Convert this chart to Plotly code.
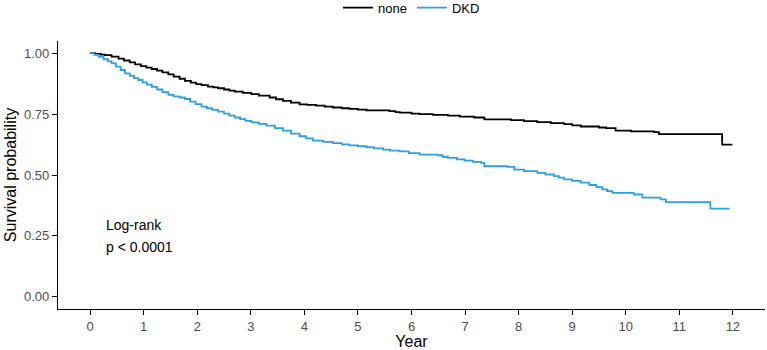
import plotly.graph_objects as go

# Kaplan-Meier estimates
none_time = [0, 0.1, 0.2, 0.28, 0.4, 0.53, 0.63, 0.74, 0.84, 0.95, 1.05, 1.15, 1.25, 1.35, 1.46,
             1.56, 1.67, 1.77, 1.88, 1.98, 2.08, 2.2, 2.3, 2.39, 2.5, 2.6, 2.7, 2.85, 3.01, 3.15,
             3.35, 3.47, 3.6, 3.75, 3.91, 4.05, 4.22, 4.38, 4.53, 4.7, 4.84, 5.0, 5.16, 5.59,
             5.7, 5.78, 6.0, 6.15, 6.4, 6.68, 6.9, 7.17, 7.36, 7.86, 8.1, 8.35, 8.6, 8.85, 9.0,
             9.16, 9.5, 9.63, 9.81, 10.1, 10.53, 10.62, 11.80, 11.99]
none_surv = [1.0, 0.997, 0.994, 0.992, 0.986, 0.978, 0.970, 0.962, 0.954, 0.947, 0.941, 0.935,
             0.928, 0.921, 0.913, 0.904, 0.895, 0.886, 0.879, 0.873, 0.869, 0.863, 0.860, 0.856,
             0.851, 0.846, 0.842, 0.837, 0.832, 0.826, 0.818, 0.811, 0.804, 0.797, 0.790, 0.788,
             0.785, 0.781, 0.777, 0.774, 0.771, 0.768, 0.765, 0.762, 0.758, 0.756, 0.752, 0.750,
             0.747, 0.744, 0.740, 0.736, 0.728, 0.725, 0.721, 0.717, 0.713, 0.709, 0.704, 0.699,
             0.695, 0.692, 0.682, 0.679, 0.676, 0.668, 0.625, 0.625]

dkd_time = [0, 0.08, 0.16, 0.25, 0.33, 0.40, 0.48, 0.57, 0.65, 0.74, 0.82, 0.90, 0.98, 1.06,
            1.15, 1.25, 1.35, 1.46, 1.56, 1.67, 1.77, 1.87, 1.97, 2.08, 2.18, 2.28, 2.39, 2.5,
            2.6, 2.70, 2.8, 2.9, 3.01, 3.15, 3.29, 3.45, 3.60, 3.75, 3.91, 4.03, 4.16, 4.35,
            4.53, 4.7, 4.84, 5.0, 5.16, 5.3, 5.47, 5.6, 5.78, 5.95, 6.15, 6.49, 6.58, 6.68,
            6.85, 6.99, 7.15, 7.30, 7.36, 7.79, 7.92, 8.1, 8.35, 8.5, 8.66, 8.75, 8.85, 9.0,
            9.16, 9.32, 9.45, 9.56, 9.65, 9.75, 10.15, 10.31, 10.65, 10.75, 11.58, 11.94]
dkd_surv = [1.0, 0.993, 0.985, 0.975, 0.966, 0.958, 0.945, 0.931, 0.917, 0.907, 0.898, 0.890,
            0.880, 0.871, 0.862, 0.851, 0.840, 0.829, 0.823, 0.818, 0.812, 0.801, 0.791, 0.781,
            0.774, 0.767, 0.760, 0.752, 0.744, 0.736, 0.729, 0.722, 0.716, 0.710, 0.703, 0.692,
            0.682, 0.670, 0.659, 0.650, 0.641, 0.636, 0.631, 0.626, 0.622, 0.618, 0.614, 0.609,
            0.604, 0.600, 0.597, 0.590, 0.584, 0.581, 0.575, 0.570, 0.564, 0.559, 0.554, 0.550,
            0.536, 0.533, 0.522, 0.516, 0.509, 0.502, 0.495, 0.489, 0.482, 0.476, 0.469, 0.459,
            0.450, 0.441, 0.434, 0.427, 0.420, 0.407, 0.400, 0.389, 0.362, 0.362]

x_ticks = list(range(0, 13))
y_ticks = [0, 0.25, 0.5, 0.75, 1.0]
y_tick_labels = ["0.00", "0.25", "0.50", "0.75", "1.00"]

fig = go.Figure()
fig.add_trace(go.Scatter(x=none_time, y=none_surv, mode="lines", name="none",
                         line=dict(color="#000000", width=1.8, shape="hv")))
fig.add_trace(go.Scatter(x=dkd_time, y=dkd_surv, mode="lines", name="DKD",
                         line=dict(color="#2E9FDF", width=1.8, shape="hv")))

fig.add_annotation(x=0.26, y=0.294, xref="x", yref="y", text="Log-rank", showarrow=False,
                   xanchor="left", font=dict(size=14, color="#000000"))
fig.add_annotation(x=0.26, y=0.204, xref="x", yref="y", text="p < 0.0001", showarrow=False,
                   xanchor="left", font=dict(size=14, color="#000000"))

axis_common = dict(showgrid=False, zeroline=False, showline=True, linecolor="#000000",
                   linewidth=1.2, ticks="outside", ticklen=5, tickcolor="#000000", tickwidth=1.1,
                   tickfont=dict(size=13, color="#4D4D4D"), automargin=False)

fig.update_xaxes(range=[-0.6, 12.6], tickvals=x_ticks,
                 title=dict(text="Year", font=dict(size=16, color="#000000"), standoff=3),
                 **axis_common)
fig.update_yaxes(range=[-0.05, 1.05], tickvals=y_ticks, ticktext=y_tick_labels,
                 title=dict(text="Survival probability", font=dict(size=16, color="#000000"), standoff=3),
                 **axis_common)

fig.update_layout(
    width=767, height=350,
    margin=dict(l=58, r=2, t=41, b=41),
    paper_bgcolor="white", plot_bgcolor="white",
    font=dict(family="Liberation Sans, Arial, sans-serif"),
    legend=dict(orientation="h", x=0.5, xanchor="center", y=0.978, yref="container", yanchor="middle",
                font=dict(size=13, color="#000000"), itemwidth=30, traceorder="normal"),
    showlegend=True,
)

fig.write_html("out.html", config={"displayModeBar": False},
               post_script="document.body.style.margin='0';document.body.style.overflow='hidden';")
